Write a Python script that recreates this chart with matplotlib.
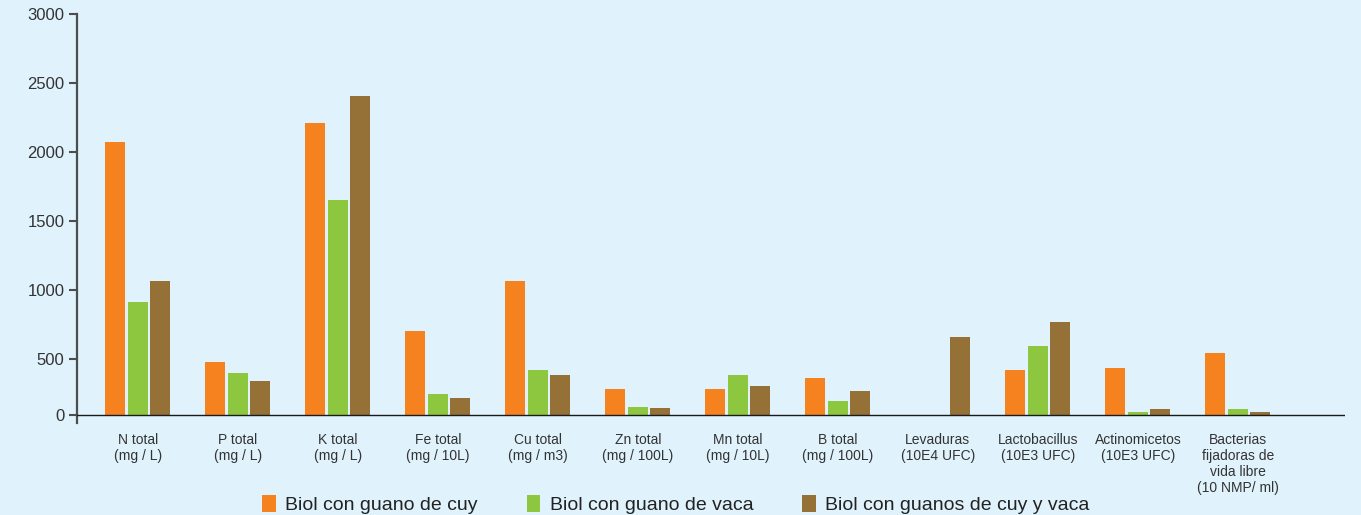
import matplotlib
matplotlib.use("Agg")
import matplotlib.pyplot as plt
import numpy as np

categories = ["N total\n(mg / L)", "P total\n(mg / L)", "K total\n(mg / L)",
              "Fe total\n(mg / 10L)", "Cu total\n(mg / m3)", "Zn total\n(mg / 100L)",
              "Mn total\n(mg / 10L)", "B total\n(mg / 100L)", "Levaduras\n(10E4 UFC)",
              "Lactobacillus\n(10E3 UFC)", "Actinomicetos\n(10E3 UFC)",
              "Bacterias\nfijadoras de\nvida libre\n(10 NMP/ ml)"]
cuy = [2072, 478, 2210, 703, 1065, 283, 283, 362, np.nan, 420, 435, 543]
vaca = [913, 399, 1652, 246, 420, 152, 384, 196, np.nan, 594, 116, 138]
mezcla = [1065, 341, 2406, 217, 384, 145, 304, 268, 659, 768, 138, 116]
series_names = ["Biol con guano de cuy", "Biol con guano de vaca",
                "Biol con guanos de cuy y vaca"]
colors = ["#F5821F", "#8DC63F", "#957137"]
yticks = [500, 1000, 1500, 2000, 2500, 3000]

base = 97  # baseline drawn as "0" in the original
bg = "#E0F2FC"

plt.rcParams['font.family'] = ['Liberation Sans', 'DejaVu Sans']
fig = plt.figure(figsize=(13.61, 5.15), dpi=100, facecolor=bg)
ax = fig.add_axes([77/1361, 1-423/515, (1345-77)/1361, (423-14)/515])
ax.set_facecolor(bg)

x = np.arange(len(categories))
w = 0.2
off = 0.225
for i, (vals, c, n) in enumerate(zip([cuy, vaca, mezcla], colors, series_names)):
    v = np.array(vals, dtype=float)
    ax.bar(x + (i-1)*off, v - base, bottom=base, width=w, color=c, label=n, linewidth=0)

ax.set_xlim(-0.607, 12.07)
ax.set_ylim(39, 3000)
ax.axhline(base, color="#1a1a1a", linewidth=1.0, zorder=3)

for s in ["top", "right", "bottom"]:
    ax.spines[s].set_visible(False)
ax.spines["left"].set_color("#4d4d4d")
ax.spines["left"].set_linewidth(1.6)

ax.set_yticks([base] + yticks)
ax.set_yticklabels(["0"] + [str(t) for t in yticks])
ax.tick_params(axis="y", direction="out", length=6, width=1.5, color="#4d4d4d",
               labelsize=12, labelcolor="#333333", pad=3)
ax.set_xticks(x)
ax.set_xticklabels(categories, fontsize=10, color="#333333", linespacing=1.2, va="top")
ax.tick_params(axis="x", length=0, pad=7)

leg = fig.legend(loc="center", bbox_to_anchor=(0.4967, 0.02), ncol=3, frameon=False,
                 fontsize=14, handlelength=0.7, handleheight=1.0, handletextpad=0.5,
                 columnspacing=2.5, borderpad=0)
for t in leg.get_texts():
    t.set_color("#222222")

fig.savefig("out.png", dpi=100, facecolor=bg)
